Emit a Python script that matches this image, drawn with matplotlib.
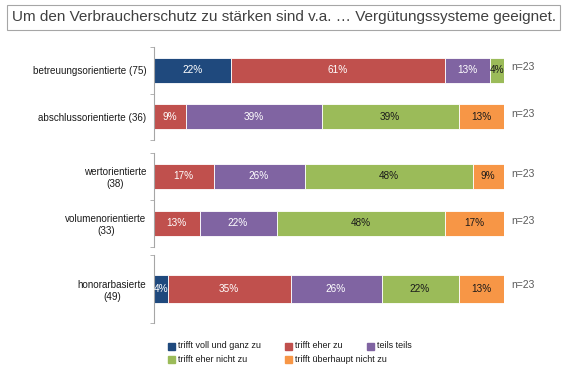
import numpy as np
import matplotlib.pyplot as plt
from matplotlib.patches import Rectangle

plt.rcParams['font.family'] = ['Liberation Sans', 'DejaVu Sans']

title = 'Um den Verbraucherschutz zu stärken sind v.a. … Vergütungssysteme geeignet.'

categories = ['betreuungsorientierte (75)', 'abschlussorientierte (36)',
              'wertorientierte\n(38)', 'volumenorientierte\n(33)',
              'honorarbasierte\n(49)']
groups = [[0, 1], [2, 3], [4]]
n_labels = ['n=23', 'n=23', 'n=23', 'n=23', 'n=23']

series = ['trifft voll und ganz zu', 'trifft eher zu', 'teils teils',
          'trifft eher nicht zu', 'trifft überhaupt nicht zu']
voll = [22, 0, 0, 0, 4]
eher = [61, 9, 17, 13, 35]
teils = [13, 39, 26, 22, 26]
eher_nicht = [4, 39, 48, 48, 22]
ueberhaupt = [0, 13, 9, 17, 13]
values = [voll, eher, teils, eher_nicht, ueberhaupt]

colors = ['#1F497D', '#C0504D', '#8064A2', '#9BBB59', '#F79646']
text_colors = ['white', 'white', 'white', '#1a1a1a', '#1a1a1a']

W, H = 567, 369
fig = plt.figure(figsize=(W / 100, H / 100), dpi=100)


def px(left, top, right, bottom):
    return [left / W, 1 - bottom / H, (right - left) / W, (bottom - top) / H]


# axes boxes in pixels: (top, bottom, bar height)
boxes = [(47, 140, 0.54), (153, 247, 0.55), (255, 323, 0.41)]

for idx, (top, bottom, bh) in zip(groups, boxes):
    ax = fig.add_axes(px(154, top, 504, bottom))
    k = len(idx)
    ypos = np.arange(k)
    left = np.zeros(k)
    for s in range(len(series)):
        vals = np.array([values[s][i] for i in idx], dtype=float)
        ax.barh(ypos, vals, left=left, height=bh, color=colors[s],
                edgecolor='white', linewidth=0.6)
        for y, l, v in zip(ypos, left, vals):
            if v > 0:
                ax.text(l + v / 2, y, f'{v:.0f}%', ha='center', va='center',
                        fontsize=7.2, color=text_colors[s])
        left += vals
    for y, i in zip(ypos, idx):
        ax.text(102, y - 0.06, n_labels[i], ha='left', va='center',
                fontsize=7.5, color='#595959', clip_on=False)
    ax.set_xlim(0, 100)
    ax.set_ylim(k - 0.5, -0.5)
    ax.set_yticks(ypos)
    ax.set_yticklabels([categories[i] for i in idx], fontsize=7.1,
                       color='#1a1a1a', multialignment='center')
    ax.set_yticks(np.arange(k + 1) - 0.5, minor=True)
    ax.tick_params(axis='y', which='major', length=0, pad=5.5)
    ax.tick_params(axis='y', which='minor', length=3, color='#A6A6A6')
    ax.set_xticks([])
    for sp in ['top', 'right', 'bottom']:
        ax.spines[sp].set_visible(False)
    ax.spines['left'].set_color('#A6A6A6')

# title box
fig.text(12 / W, 1 - 17.5 / H, title, fontsize=11, color='#404040',
         ha='left', va='center')
fig.add_artist(Rectangle((7 / W, 1 - 30 / H), 553 / W, 25 / H,
                         transform=fig.transFigure, fill=False,
                         edgecolor='#A6A6A6', linewidth=0.8))

# legend laid out like the original
leg_pos = [(168, 346), (285, 346), (367, 346), (168, 359), (285, 359)]
for (x, y), name, c in zip(leg_pos, series, colors):
    fig.add_artist(Rectangle((x / W, 1 - (y + 3.5) / H), 7 / W, 7 / H,
                             transform=fig.transFigure, color=c))
    fig.text((x + 10) / W, 1 - y / H, name, fontsize=6.5, color='#1a1a1a',
             ha='left', va='center')

fig.savefig('out.png', dpi=100)
